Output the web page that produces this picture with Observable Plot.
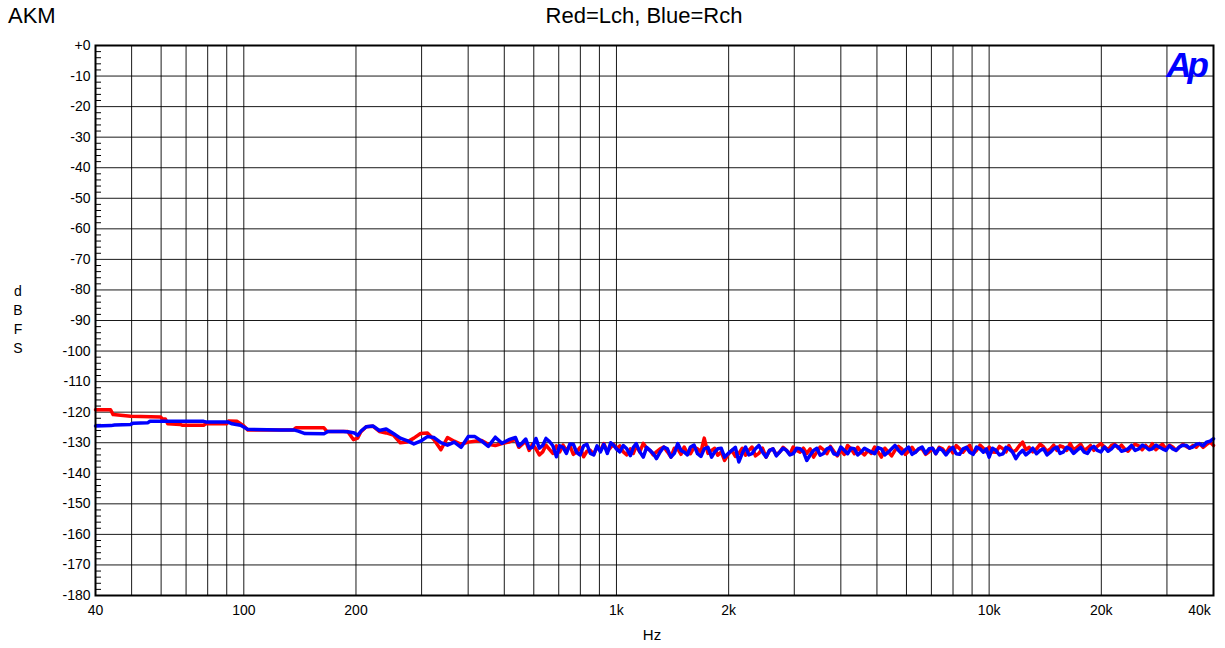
<!DOCTYPE html>
<html>
<head>
<meta charset="utf-8">
<script src="https://cdn.jsdelivr.net/npm/d3@7"></script>
<script src="https://cdn.jsdelivr.net/npm/@observablehq/plot@0.6"></script>
<style>
  html, body { margin: 0; padding: 0; background: #fff; }
  #wrap { position: relative; width: 1225px; height: 648px; font-family: "Liberation Sans", Arial, sans-serif; color: #000; }
  #wrap svg { position: absolute; left: 0; top: 0; }
  #wrap svg text { font-size: 14px !important; font-family: "Liberation Sans", Arial, sans-serif !important; }
  .lbl { position: absolute; white-space: nowrap; }
</style>
</head>
<body>
<div id="wrap">
  <div class="lbl" style="left:8px; top:5px; font-size:22px; line-height:22px;">AKM</div>
  <div class="lbl" style="left:644px; top:5px; font-size:22px; line-height:22px; transform:translateX(-50%);">Red=Lch, Blue=Rch</div>
  <div class="lbl" style="left:652px; top:627px; font-size:15px; line-height:15px; transform:translateX(-50%);">Hz</div>
  <div class="lbl" style="left:18px; top:282px; font-size:14px; line-height:19px; transform:translateX(-50%); text-align:center;">d<br>B<br>F<br>S</div>
  <div class="lbl" style="right:20px; top:47px; font-size:35px; line-height:35px; font-weight:bold; font-style:italic; letter-spacing:-4px; color:#0000ff; z-index:2;">Ap</div>
</div>
<script>
// ---- data ----
const xLabelTicks = [40, 50, 100, 200, 500, 1000, 2000, 5000, 10000, 20000];
const xEndTick = [40000];
const xGrid = [50, 60, 70, 80, 90, 100, 200, 300, 400, 500, 600, 700, 800, 900,
  1000, 2000, 3000, 4000, 5000, 6000, 7000, 8000, 9000, 10000, 20000, 30000];
const yMajor = [0, -10, -20, -30, -40, -50, -60, -70, -80, -90, -100, -110, -120, -130, -140, -150, -160, -170, -180];
const yMinor = [-2,-4,-6,-8,-12,-14,-16,-18,-22,-24,-26,-28,-32,-34,-36,-38,-42,-44,-46,-48,-52,-54,-56,-58,
  -62,-64,-66,-68,-72,-74,-76,-78,-82,-84,-86,-88,-92,-94,-96,-98,-102,-104,-106,-108,-112,-114,-116,-118,
  -122,-124,-126,-128,-132,-134,-136,-138,-142,-144,-146,-148,-152,-154,-156,-158,-162,-164,-166,-168,-172,-174,-176,-178];

// low-frequency part (Hz / dBFS)
const lchLowFreq = [40, 43.9, 44.6, 49.7, 59.8, 60.5, 61.6, 62.5, 67.5, 68.5, 78, 79, 90, 91, 96, 100, 102.5, 136, 138, 164, 167, 190, 197, 202, 206, 213];
const lchLowDb = [-119.2,-119.2,-120.8,-121.3,-121.6,-122.2,-122.2,-123.8,-124.0,-124.3,-124.3,-123.8,-123.8,-122.9,-123.0,-124.5,-125.8,-125.8,-125.1,-125.1,-126.3,-126.3,-129.0,-128.5,-126.5,-124.8];
const rchLowFreq = [40, 44, 45, 49.7, 50.5, 55.2, 56, 78, 79, 90.5, 93, 98, 102.4, 125.5, 136, 140, 146, 164, 168, 185, 192, 198, 202, 207, 213];
const rchLowDb = [-124.5,-124.4,-124.2,-124.0,-123.6,-123.5,-123.0,-123.0,-123.2,-123.2,-123.8,-124.3,-125.6,-125.8,-125.8,-126.2,-127.0,-127.1,-126.3,-126.3,-126.5,-126.8,-127.6,-126.0,-124.8];

// sweep frequencies shared by both channels above ~220 Hz
const sweepFreq = [
  222,231,241,252,263,274,286,298,311,324,338,352,367,383,400,417,435,453,473,493,
  514,536,559,583,608,634,661,690,719,750,782,816,851,887,925,965,
  1000,1043,1090,1130,1180,1230,1280,1340,1400,1460,1520,1580,1650,1720,1800,1870,1950,2040,2130,2220,
  2310,2410,2520,2630,2740,2860,2980,3110,3240,3380,3520,3670,3830,4000,4170,4350,4530,4730,4930,5140,
  5360,5590,5830,6080,6340,6610,6900,7190,7500,7820,8160,8510,8870,9250,9650,
  10000,10430,10900,11300,11800,12300,12800,13400,14000,14600,15200,15800,16500,17200,18000,18700,19500,
  20400,21300,22200,23100,24100,25200,26300,27400,28600,29800,31100,32400,33800,35200,36700,38300,40000];

const lchSweepDb = [
  -124.6,-126.3,-126.8,-127.5,-130.0,-129.8,-128.5,-127.0,-126.8,-129.0,-132.3,-128.3,-129.5,-130.5,-129.8,-129.5,-129.3,-130.5,-130.9,-130.3,
  -129.8,-128.8,-130.5,-132.5,-132.0,-133.0,-132.2,-131.0,-130.8,-131.0,-133.0,-134.6,-132.5,-131.5,-130.3,-131.5,
  -132.0,-133.0,-132.0,-131.0,-130.2,-132.5,-133.0,-131.4,-134.7,-132.0,-131.4,-133.6,-132.0,-128.5,-132.5,-134.1,-135.8,-132.5,-133.5,-134.1,
  -131.4,-133.5,-134.7,-132.0,-133.1,-132.5,-131.4,-133.1,-133.5,-134.7,-131.4,-133.6,-132.8,-132.5,-130.9,-133.6,-133.0,-132.5,-131.4,-134.7,
  -133.0,-132.5,-132.0,-132.8,-133.1,-132.0,-133.0,-133.6,-132.0,-131.5,-130.9,-133.1,-130.9,-132.5,-131.8,
  -131.4,-133.1,-132.0,-130.9,-132.5,-129.8,-131.5,-132.0,-131.4,-132.0,-132.5,-131.4,-130.3,-131.5,-132.5,-130.9,-131.2,
  -131.4,-130.9,-131.8,-132.0,-131.4,-131.0,-130.9,-130.3,-131.2,-132.0,-131.4,-131.4,-131.2,-130.9,-130.3,-130.6,-130.9];

const rchSweepDb = [
  -124.5,-126.0,-125.5,-127.0,-128.5,-129.3,-130.4,-129.5,-128.0,-128.3,-130.0,-130.8,-129.8,-131.5,-128.0,-128.0,-129.5,-131.2,-128.2,-130.2,
  -129.0,-128.3,-130.0,-131.8,-128.6,-130.9,-129.6,-134.6,-131.5,-130.4,-133.2,-131.0,-133.5,-131.0,-130.5,-130.0,
  -132.0,-130.9,-134.2,-130.3,-134.7,-132.5,-135.2,-131.4,-134.7,-130.3,-133.1,-131.4,-133.6,-132.0,-134.7,-132.0,-134.7,-132.5,-136.3,-131.4,
  -133.6,-130.9,-134.7,-132.0,-133.1,-132.5,-133.6,-132.0,-135.8,-132.5,-134.1,-132.0,-133.6,-131.4,-133.6,-132.0,-133.1,-132.5,-133.6,-132.0,
  -133.1,-130.9,-133.6,-131.4,-133.1,-131.4,-132.0,-133.6,-132.5,-132.5,-133.6,-132.0,-133.1,-131.4,-133.1,
  -134.7,-132.5,-133.6,-132.0,-135.2,-132.5,-133.1,-133.6,-132.0,-133.1,-131.4,-133.1,-132.0,-132.5,-133.1,-132.0,-132.5,
  -131.4,-132.0,-131.4,-132.5,-130.9,-132.0,-131.4,-132.0,-131.4,-132.5,-132.0,-131.4,-130.9,-131.4,-130.3,-129.8,-128.7];

// extra readings between the sweep points (dense noise above ~540 Hz)
const midFreq = [
  547,571,595,621,647,675,704,734,766,799,833,869,906,945,982,
  1021,1066,1110,1155,1205,1255,1310,1370,1430,1490,1550,1615,1685,1760,1835,1910,1995,2085,2175,2265,
  2360,2465,2575,2685,2800,2920,3045,3175,3310,3450,3595,3750,3915,4085,4260,4440,4630,4830,5035,5250,
  5475,5710,5955,6210,6475,6755,7045,7345,7660,7990,8335,8690,9060,9450,9825,
  10210,10660,11100,11550,12050,12550,13100,13700,14300,14900,15500,16150,16850,17600,18350,19100,19950,
  20850,21750,22650,23600,24650,25750,26850,28000,29200,30450,31750,33100,34500,35950,37500,39150];

const lchMidDb = [
  -131.5,-129.5,-130.5,-134.0,-130.8,-133.5,-133.0,-132.5,-133.8,-131.5,-132.8,-133.8,-132.5,-132.8,-130.5,
  -131.0,-134.0,-133.5,-133.0,-131.8,-134.0,-132.0,-133.0,-131.8,-133.8,-133.5,-131.5,-133.0,-133.5,-131.8,-133.0,-133.8,-134.5,-131.8,-132.5,
  -134.3,-131.8,-132.5,-134.0,-131.5,-133.8,-132.5,-131.8,-132.0,-133.0,-132.3,-131.2,-134.3,-133.8,-132.0,-131.5,-134.0,-133.5,-133.0,-131.8,
  -134.3,-131.2,-133.8,-131.5,-132.0,-133.8,-131.8,-131.5,-133.5,-133.3,-132.0,-131.8,-133.5,-130.8,-133.0,
  -133.0,-131.2,-133.0,-133.0,-131.0,-132.3,-133.0,-130.5,-132.8,-130.8,-131.0,-132.5,-132.3,-130.5,-131.8,-132.5,-130.3,
  -132.3,-130.5,-130.8,-132.8,-130.5,-132.3,-132.0,-132.3,-130.5,-130.8,-132.5,-130.5,-131.8,-131.5,-131.5,-129.8];

const rchMidDb = [
  -131.0,-128.8,-131.5,-131.8,-128.6,-131.0,-131.0,-133.5,-130.5,-134.0,-130.5,-134.0,-133.0,-133.5,-130.8,
  -133.0,-132.0,-131.5,-133.0,-131.5,-133.5,-133.0,-132.0,-133.5,-132.5,-134.0,-130.8,-134.5,-131.5,-133.0,-131.8,-133.5,-131.5,-133.5,-134.0,
  -132.0,-133.0,-132.5,-134.3,-131.8,-134.0,-131.8,-133.0,-134.0,-131.8,-133.5,-131.5,-134.0,-132.5,-131.8,-134.0,-131.8,-133.0,-131.6,-134.0,
  -132.0,-132.5,-132.3,-133.8,-132.0,-133.5,-131.8,-131.8,-134.0,-131.5,-133.8,-131.5,-133.8,-132.0,-132.0,
  -131.8,-134.0,-131.5,-133.0,-133.5,-134.0,-131.8,-132.5,-134.0,-132.0,-133.5,-131.5,-133.5,-131.5,-133.5,-131.2,-133.0,
  -132.8,-130.8,-132.8,-132.0,-132.5,-130.8,-132.3,-130.8,-132.0,-131.0,-132.5,-130.8,-131.8,-130.5,-131.0,-129.5];

// ---- build series ----
const byFreq = (a, b) => a.f - b.f;
const lch = lchLowFreq.map((f, i) => ({f, db: lchLowDb[i]}))
  .concat(sweepFreq.map((f, i) => ({f, db: lchSweepDb[i]})))
  .concat(midFreq.map((f, i) => ({f, db: lchMidDb[i]})))
  .sort(byFreq);
const rch = rchLowFreq.map((f, i) => ({f, db: rchLowDb[i]}))
  .concat(sweepFreq.map((f, i) => ({f, db: rchSweepDb[i]})))
  .concat(midFreq.map((f, i) => ({f, db: rchMidDb[i]})))
  .sort(byFreq);

const fmtHz = f => f >= 1000 ? (f / 1000) + "k" : String(f);
const fmtDb = d => d === 0 ? "+0" : String(d);

const W = 1225, H = 648, ML = 95, MR = 12, MT = 45, MB = 53;
const axisFont = {fontSize: 14, fontVariant: "normal"};

const chart = Plot.plot({
  width: W, height: H,
  marginLeft: ML, marginRight: MR, marginTop: MT, marginBottom: MB,
  style: {fontFamily: "'Liberation Sans', Arial, sans-serif", fontSize: "14px", background: "transparent", color: "#000"},
  x: {type: "log", domain: [40, 40000], label: null},
  y: {domain: [-180, 0], label: null},
  marks: [
    Plot.ruleX(xGrid, {stroke: "#000", strokeWidth: 1, strokeOpacity: 0.9}),
    Plot.ruleY(yMajor, {stroke: "#000", strokeWidth: 1, strokeOpacity: 0.9}),
    Plot.tickY(yMinor, {stroke: "#000", strokeWidth: 1, insetRight: W - ML - MR - 6}),
    Plot.axisY(yMajor, {tickSize: 0, tickPadding: 5, tickFormat: fmtDb, ...axisFont}),
    Plot.axisX(xLabelTicks, {tickSize: 0, tickPadding: 10, tickFormat: fmtHz, ...axisFont}),
    Plot.axisX(xEndTick, {tickSize: 0, tickPadding: 10, tickFormat: fmtHz, dx: -14, ...axisFont}),
    Plot.line(lch, {x: "f", y: "db", stroke: "#ff0000", strokeWidth: 3.5, strokeLinejoin: "round"}),
    Plot.line(rch, {x: "f", y: "db", stroke: "#0000ff", strokeWidth: 3.5, strokeLinejoin: "round"}),
    Plot.frame({stroke: "#000", strokeWidth: 2})
  ]
});
document.getElementById("wrap").prepend(chart);
</script>
</body>
</html>
